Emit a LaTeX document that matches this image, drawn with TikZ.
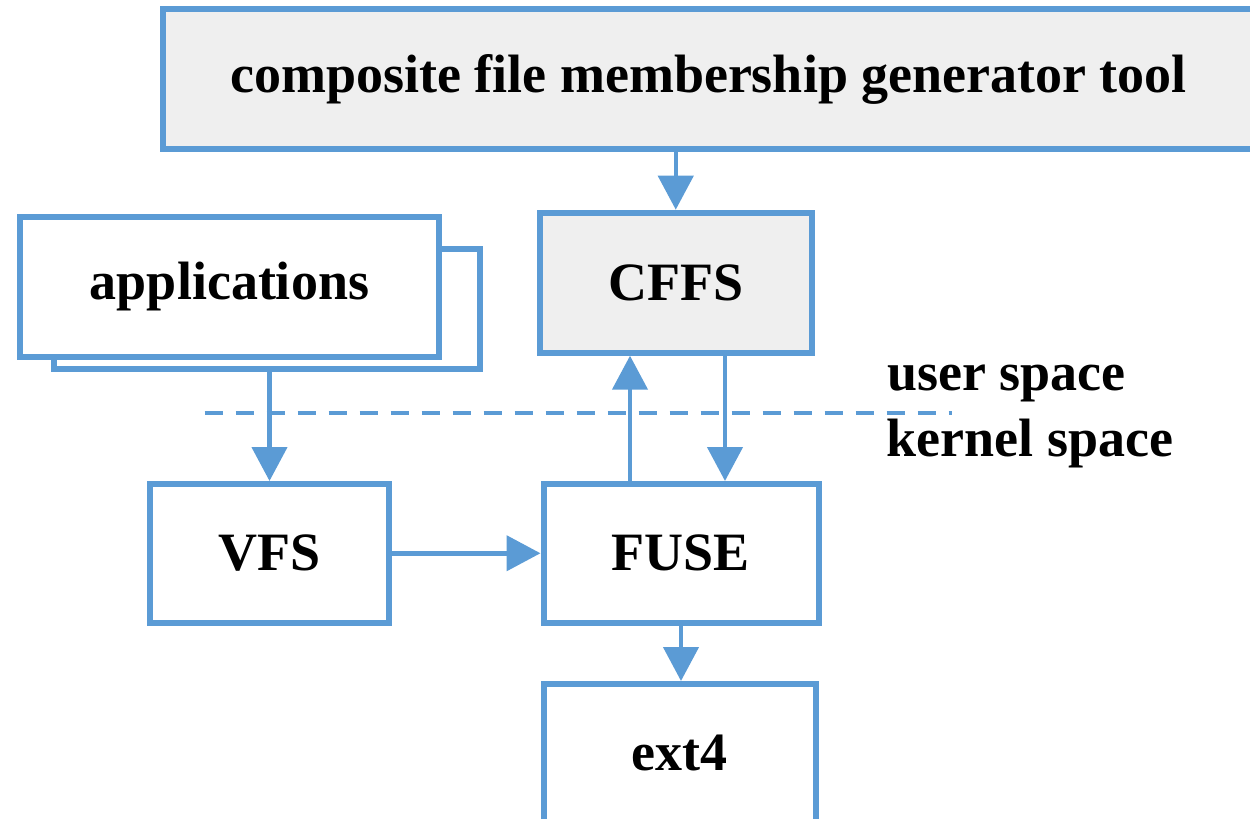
\documentclass[tikz,border=0pt]{standalone}
\usepackage{fontspec}
\setmainfont{Liberation Serif}
\usetikzlibrary{arrows.meta}
\definecolor{bblue}{HTML}{5B9BD5}
\definecolor{bgray}{HTML}{EFEFEF}
\begin{document}
\begin{tikzpicture}[x=1pt,y=-1pt,
  boxstyle/.style={draw=bblue,line width=6pt,rectangle,inner sep=0pt,
    font=\fontsize{54}{60}\selectfont\bfseries,fill=white},
  grayfill/.style={fill=bgray},
  arr/.style={draw=bblue,line width=4.5pt,-{Triangle[width=35pt,length=34pt]}},
  sep/.style={draw=bblue,line width=4pt,dash pattern=on 18pt off 13pt},
  lbl/.style={font=\fontsize{54}{60}\selectfont\bfseries,inner sep=0pt,anchor=base west}]
\useasboundingbox (0,0) rectangle (1250,819);
\node[boxstyle,grayfill,minimum width=1091pt,minimum height=140pt] (tool) at (708.5,79) {composite file membership generator tool};
\node[boxstyle,minimum width=425.5pt,minimum height=120pt] (appsback) at (267,309) {};
\node[boxstyle,minimum width=419pt,minimum height=140pt] (apps) at (229.5,287) {applications};
\node[boxstyle,grayfill,minimum width=272.5pt,minimum height=140pt] (cffs) at (675.75,282.7) {CFFS};
\node[boxstyle,minimum width=239pt,minimum height=138.5pt] (vfs) at (269.5,553.25) {VFS};
\node[boxstyle,minimum width=275pt,minimum height=138.5pt] (fuse) at (681,553.25) {FUSE};
\node[boxstyle,minimum width=272.5pt,minimum height=138pt] (ext4) at (679.8,753) {ext4};
\coordinate (sepL) at (204.6,412.7);
\coordinate (sepR) at (952,412.7);
\draw[sep] (sepL) -- (sepR);
\node[lbl] (user) at (887,390) {user space};
\node[lbl] (kernel) at (886.7,456.7) {kernel space};
\draw[arr] (cffs.north |- tool.south) -- (cffs.north);
\draw[arr] (appsback.south -| vfs.north) -- (vfs.north);
\draw[arr] (vfs.east) -- (fuse.west);
\draw[arr] ([xshift=-51pt]fuse.north) -- ([xshift=-51pt]fuse.north |- cffs.south);
\draw[arr] ([xshift=44pt]fuse.north |- cffs.south) -- ([xshift=44pt]fuse.north);
\draw[arr] (fuse.south) -- (fuse.south |- ext4.north);
\end{tikzpicture}
\end{document}
